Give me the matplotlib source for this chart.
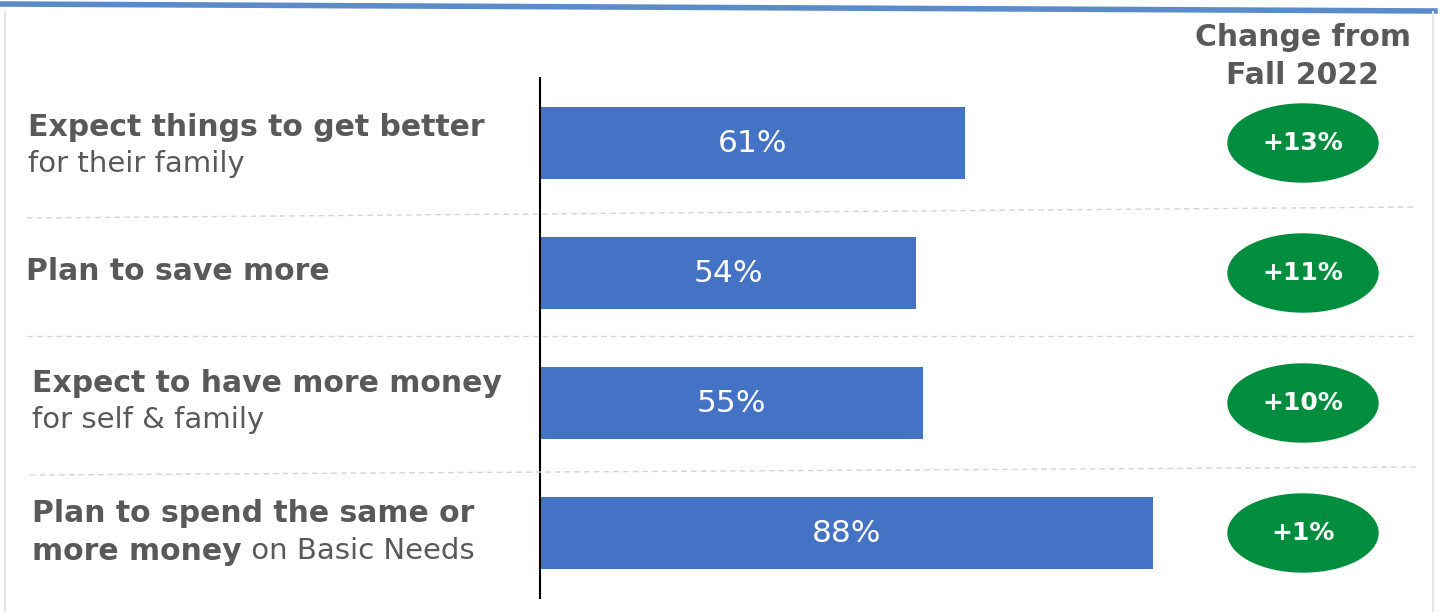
import matplotlib.pyplot as plt
from matplotlib.patches import Ellipse
from matplotlib.lines import Line2D

# data
bold_lines = ['Expect things to get better', 'Plan to save more',
              'Expect to have more money', 'Plan to spend the same or']
light_lines = ['for their family', '', 'for self & family', ' on Basic Needs']
values = [61, 54, 55, 88]
changes = ['+13%', '+11%', '+10%', '+1%']

W, H = 1440, 612
BLUE = '#4472C4'
GREEN = '#008E3E'
GREY = '#595959'
BOLD_FS = 21.5
LIGHT_FS = 21


def px(x, y):
    """pixel (from top-left) -> figure fraction"""
    return x / W, 1 - y / H


fig = plt.figure(figsize=(14.4, 6.12), dpi=100)

# bar axes: left edge at x=540, 6.97 px per percent
ax = fig.add_axes([540 / W, 14 / H, 880 / W, 520 / H])
ax.set_xlim(0, 880 / 6.97)
ax.set_ylim(3.5, -0.5)
ypos = list(range(len(values)))
ax.barh(ypos, values, height=72 / 130, color=BLUE)
for y, v in zip(ypos, values):
    ax.text(v / 2, y, f'{v}%', color='white', fontsize=22.5,
            ha='center', va='center')

# change bubbles
cx = (1303 - 540) / 6.97
for y, c in zip(ypos, changes):
    ax.add_patch(Ellipse((cx, y), 150 / 6.97, 78 / 130, color=GREEN, clip_on=False))
    ax.text(cx, y, c, color='white', fontsize=18, fontweight='bold',
            ha='center', va='center')

for s in ['top', 'right', 'bottom']:
    ax.spines[s].set_visible(False)
ax.spines['left'].set_linewidth(1.5)
ax.set_xticks([])
ax.set_yticks([])
ax.patch.set_visible(False)

# heading
fig.text(*px(1303, 38), 'Change from', ha='center', va='center',
         fontsize=21.5, fontweight='bold', color=GREY)
fig.text(*px(1303, 76), 'Fall 2022', ha='center', va='center',
         fontsize=21.5, fontweight='bold', color=GREY)

# left labels
fig.text(*px(28, 128), bold_lines[0], fontsize=BOLD_FS, fontweight='bold', color=GREY, va='center')
fig.text(*px(28, 164), light_lines[0], fontsize=LIGHT_FS, color=GREY, va='center')
fig.text(*px(26, 272), bold_lines[1], fontsize=BOLD_FS, fontweight='bold', color=GREY, va='center')
fig.text(*px(32, 383), bold_lines[2], fontsize=BOLD_FS, fontweight='bold', color=GREY, va='center')
fig.text(*px(32, 420), light_lines[2], fontsize=LIGHT_FS, color=GREY, va='center')
fig.text(*px(32, 514), bold_lines[3], fontsize=BOLD_FS, fontweight='bold', color=GREY, va='center')
t = fig.text(*px(32, 551), 'more money', fontsize=BOLD_FS, fontweight='bold', color=GREY, va='center')
ax.annotate(light_lines[3], xy=(1, 0.5), xycoords=t, fontsize=LIGHT_FS,
            color=GREY, va='center', ha='left', annotation_clip=False)

# dashed separators and frame
seps = [((27, 218), (1413, 207)), ((27, 336), (1413, 336)), ((30, 475), (1420, 467))]
for (x0, y0), (x1, y1) in seps:
    a, b = px(x0, y0), px(x1, y1)
    fig.add_artist(Line2D([a[0], b[0]], [a[1], b[1]], color='#d4d4d4',
                          lw=1, ls=(0, (4, 3))))
a, b = px(0, 4), px(1435, 11)
fig.add_artist(Line2D([a[0], b[0]], [a[1], b[1]], color='#5B8BC9', lw=4))
for x in (5, 1433):
    a, b = px(x, 12), px(x, 612)
    fig.add_artist(Line2D([a[0], b[0]], [a[1], b[1]], color='#e6e6e6', lw=1.5))

fig.savefig('out.png', dpi=100)
